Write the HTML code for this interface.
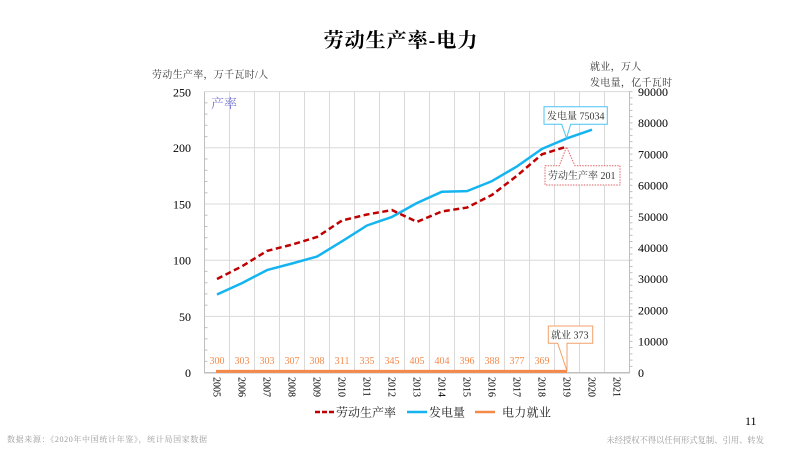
<!DOCTYPE html>
<html><head><meta charset="utf-8"><style>
html,body{margin:0;padding:0;background:#fff;}
svg{display:block;}
text{font-family:"Liberation Serif","Noto Serif CJK SC",serif;}
</style></head><body>
<svg width="800" height="450" viewBox="0 0 800 450" xmlns="http://www.w3.org/2000/svg">
<rect width="800" height="450" fill="#fff"/>
<!-- title -->
<text x="401" y="47" font-size="20" font-weight="bold" text-anchor="middle" letter-spacing="1" fill="#000">劳动生产率-电力</text>
<!-- axis titles -->
<text x="152" y="78" font-size="10" fill="#333" letter-spacing="0.3">劳动生产率，万千瓦时/人</text>
<text x="590" y="70" font-size="10" fill="#333" letter-spacing="0.3">就业，万人</text>
<text x="590" y="86" font-size="10" fill="#333" letter-spacing="0.3">发电量，亿千瓦时</text>

<!-- gridlines -->
<g stroke="#D9D9D9" stroke-width="1">
<line x1="204.5" y1="91.6" x2="629.5" y2="91.6"/>
<line x1="204.5" y1="147.8" x2="629.5" y2="147.8"/>
<line x1="204.5" y1="204" x2="629.5" y2="204"/>
<line x1="204.5" y1="260.2" x2="629.5" y2="260.2"/>
<line x1="204.5" y1="316.4" x2="629.5" y2="316.4"/>
<line x1="229.5" y1="91.6" x2="229.5" y2="372.6"/>
<line x1="254.5" y1="91.6" x2="254.5" y2="372.6"/>
<line x1="279.5" y1="91.6" x2="279.5" y2="372.6"/>
<line x1="304.5" y1="91.6" x2="304.5" y2="372.6"/>
<line x1="329.5" y1="91.6" x2="329.5" y2="372.6"/>
<line x1="354.5" y1="91.6" x2="354.5" y2="372.6"/>
<line x1="379.5" y1="91.6" x2="379.5" y2="372.6"/>
<line x1="404.5" y1="91.6" x2="404.5" y2="372.6"/>
<line x1="429.5" y1="91.6" x2="429.5" y2="372.6"/>
<line x1="454.5" y1="91.6" x2="454.5" y2="372.6"/>
<line x1="479.5" y1="91.6" x2="479.5" y2="372.6"/>
<line x1="504.5" y1="91.6" x2="504.5" y2="372.6"/>
<line x1="529.5" y1="91.6" x2="529.5" y2="372.6"/>
<line x1="554.5" y1="91.6" x2="554.5" y2="372.6"/>
<line x1="579.5" y1="91.6" x2="579.5" y2="372.6"/>
<line x1="604.5" y1="91.6" x2="604.5" y2="372.6"/>
</g>
<!-- axes -->
<g stroke="#BFBFBF" stroke-width="1">
<line x1="204.5" y1="91.6" x2="204.5" y2="373"/>
<line x1="629.5" y1="91.6" x2="629.5" y2="373"/>
<line x1="204" y1="372.8" x2="630" y2="372.8" stroke-width="1.5"/>
</g>
<!-- left minor ticks -->
<g stroke="#BFBFBF" stroke-width="1">
<line x1="204.5" x2="207.5" y1="361.4" y2="361.4"/><line x1="204.5" x2="207.5" y1="350.1" y2="350.1"/><line x1="204.5" x2="207.5" y1="338.9" y2="338.9"/><line x1="204.5" x2="207.5" y1="327.6" y2="327.6"/>
<line x1="204.5" x2="207.5" y1="305.2" y2="305.2"/><line x1="204.5" x2="207.5" y1="293.9" y2="293.9"/><line x1="204.5" x2="207.5" y1="282.7" y2="282.7"/><line x1="204.5" x2="207.5" y1="271.4" y2="271.4"/>
<line x1="204.5" x2="207.5" y1="249.0" y2="249.0"/><line x1="204.5" x2="207.5" y1="237.7" y2="237.7"/><line x1="204.5" x2="207.5" y1="226.5" y2="226.5"/><line x1="204.5" x2="207.5" y1="215.2" y2="215.2"/>
<line x1="204.5" x2="207.5" y1="192.8" y2="192.8"/><line x1="204.5" x2="207.5" y1="181.5" y2="181.5"/><line x1="204.5" x2="207.5" y1="170.3" y2="170.3"/><line x1="204.5" x2="207.5" y1="159.0" y2="159.0"/>
<line x1="204.5" x2="207.5" y1="136.6" y2="136.6"/><line x1="204.5" x2="207.5" y1="125.3" y2="125.3"/><line x1="204.5" x2="207.5" y1="114.1" y2="114.1"/><line x1="204.5" x2="207.5" y1="102.8" y2="102.8"/>
</g>
<!-- right minor ticks every 2000 -->
<g stroke="#BFBFBF" stroke-width="1">
<line x1="629.5" x2="632.5" y1="366.4" y2="366.4"/><line x1="629.5" x2="632.5" y1="360.1" y2="360.1"/><line x1="629.5" x2="632.5" y1="353.9" y2="353.9"/><line x1="629.5" x2="632.5" y1="347.6" y2="347.6"/><line x1="629.5" x2="632.5" y1="341.4" y2="341.4"/>
<line x1="629.5" x2="632.5" y1="335.1" y2="335.1"/><line x1="629.5" x2="632.5" y1="328.9" y2="328.9"/><line x1="629.5" x2="632.5" y1="322.7" y2="322.7"/><line x1="629.5" x2="632.5" y1="316.4" y2="316.4"/><line x1="629.5" x2="632.5" y1="310.2" y2="310.2"/>
<line x1="629.5" x2="632.5" y1="303.9" y2="303.9"/><line x1="629.5" x2="632.5" y1="297.7" y2="297.7"/><line x1="629.5" x2="632.5" y1="291.4" y2="291.4"/><line x1="629.5" x2="632.5" y1="285.2" y2="285.2"/><line x1="629.5" x2="632.5" y1="279.0" y2="279.0"/>
<line x1="629.5" x2="632.5" y1="272.7" y2="272.7"/><line x1="629.5" x2="632.5" y1="266.5" y2="266.5"/><line x1="629.5" x2="632.5" y1="260.2" y2="260.2"/><line x1="629.5" x2="632.5" y1="254.0" y2="254.0"/><line x1="629.5" x2="632.5" y1="247.7" y2="247.7"/>
<line x1="629.5" x2="632.5" y1="241.5" y2="241.5"/><line x1="629.5" x2="632.5" y1="235.3" y2="235.3"/><line x1="629.5" x2="632.5" y1="229.0" y2="229.0"/><line x1="629.5" x2="632.5" y1="222.8" y2="222.8"/><line x1="629.5" x2="632.5" y1="216.5" y2="216.5"/>
<line x1="629.5" x2="632.5" y1="210.3" y2="210.3"/><line x1="629.5" x2="632.5" y1="204.0" y2="204.0"/><line x1="629.5" x2="632.5" y1="197.8" y2="197.8"/><line x1="629.5" x2="632.5" y1="191.6" y2="191.6"/><line x1="629.5" x2="632.5" y1="185.3" y2="185.3"/>
<line x1="629.5" x2="632.5" y1="179.1" y2="179.1"/><line x1="629.5" x2="632.5" y1="172.8" y2="172.8"/><line x1="629.5" x2="632.5" y1="166.6" y2="166.6"/><line x1="629.5" x2="632.5" y1="160.3" y2="160.3"/><line x1="629.5" x2="632.5" y1="154.1" y2="154.1"/>
<line x1="629.5" x2="632.5" y1="147.9" y2="147.9"/><line x1="629.5" x2="632.5" y1="141.6" y2="141.6"/><line x1="629.5" x2="632.5" y1="135.4" y2="135.4"/><line x1="629.5" x2="632.5" y1="129.1" y2="129.1"/><line x1="629.5" x2="632.5" y1="122.9" y2="122.9"/>
<line x1="629.5" x2="632.5" y1="116.6" y2="116.6"/><line x1="629.5" x2="632.5" y1="110.4" y2="110.4"/><line x1="629.5" x2="632.5" y1="104.2" y2="104.2"/><line x1="629.5" x2="632.5" y1="97.9" y2="97.9"/><line x1="629.5" x2="632.5" y1="91.6" y2="91.6"/>
</g>

<!-- left axis labels -->
<g font-size="12" fill="#000" text-anchor="end">
<text x="191" y="96.3">250</text>
<text x="191" y="152.2">200</text>
<text x="191" y="208.4">150</text>
<text x="191" y="264.6">100</text>
<text x="191" y="320.8">50</text>
<text x="191" y="377">0</text>
</g>
<!-- right axis labels -->
<g font-size="12" fill="#000">
<text x="638" y="96">90000</text>
<text x="638" y="127.2">80000</text>
<text x="638" y="158.4">70000</text>
<text x="638" y="189.6">60000</text>
<text x="638" y="220.8">50000</text>
<text x="638" y="252">40000</text>
<text x="638" y="283.2">30000</text>
<text x="638" y="314.4">20000</text>
<text x="638" y="345.6">10000</text>
<text x="638" y="377">0</text>
</g>
<!-- x labels rotated -->
<g font-size="10" fill="#000">
<text transform="translate(213.7,377) rotate(90)">2005</text>
<text transform="translate(238.7,377) rotate(90)">2006</text>
<text transform="translate(263.7,377) rotate(90)">2007</text>
<text transform="translate(288.7,377) rotate(90)">2008</text>
<text transform="translate(313.7,377) rotate(90)">2009</text>
<text transform="translate(338.7,377) rotate(90)">2010</text>
<text transform="translate(363.7,377) rotate(90)">2011</text>
<text transform="translate(388.7,377) rotate(90)">2012</text>
<text transform="translate(413.7,377) rotate(90)">2013</text>
<text transform="translate(438.7,377) rotate(90)">2014</text>
<text transform="translate(463.7,377) rotate(90)">2015</text>
<text transform="translate(488.7,377) rotate(90)">2016</text>
<text transform="translate(513.7,377) rotate(90)">2017</text>
<text transform="translate(538.7,377) rotate(90)">2018</text>
<text transform="translate(563.7,377) rotate(90)">2019</text>
<text transform="translate(588.7,377) rotate(90)">2020</text>
<text transform="translate(613.7,377) rotate(90)">2021</text>
</g>

<!-- 产率 -->
<text x="211" y="108" font-size="13" fill="#6F6FD0">产率</text>

<!-- generation line -->
<polyline fill="none" stroke="#14B4F0" stroke-width="2.5" stroke-linejoin="round"
points="217,294.5 242,283.1 267,270.1 292,263.5 317,256.6 342,241.3 367,225.5 392,216.9 417,203 442,191.7 467,191.1 492,181.1 517,166.4 542,148.9 567,138.3 592,129.7"/>
<!-- productivity line -->
<polyline fill="none" stroke="#C00000" stroke-width="2.5" stroke-dasharray="6,3.5"
points="217,279 242,266.3 267,250.9 292,244.6 317,237 342,220.5 367,214.5 392,210.1 417,221.9 442,211.4 467,207.6 492,194.9 517,175.7 542,154.3 567,146.5"/>
<!-- employment line -->
<line x1="216" y1="371.4" x2="567" y2="371.4" stroke="#F5894A" stroke-width="3"/>

<!-- employment labels -->
<g font-size="11" fill="#F5894A" text-anchor="middle">
<text x="217" y="364" textLength="15" lengthAdjust="spacingAndGlyphs">300</text>
<text x="242" y="364" textLength="15" lengthAdjust="spacingAndGlyphs">303</text>
<text x="267" y="364" textLength="15" lengthAdjust="spacingAndGlyphs">303</text>
<text x="292" y="364" textLength="15" lengthAdjust="spacingAndGlyphs">307</text>
<text x="317" y="364" textLength="15" lengthAdjust="spacingAndGlyphs">308</text>
<text x="342" y="364" textLength="15" lengthAdjust="spacingAndGlyphs">311</text>
<text x="367" y="364" textLength="15" lengthAdjust="spacingAndGlyphs">335</text>
<text x="392" y="364" textLength="15" lengthAdjust="spacingAndGlyphs">345</text>
<text x="417" y="364" textLength="15" lengthAdjust="spacingAndGlyphs">405</text>
<text x="442" y="364" textLength="15" lengthAdjust="spacingAndGlyphs">404</text>
<text x="467" y="364" textLength="15" lengthAdjust="spacingAndGlyphs">396</text>
<text x="492" y="364" textLength="15" lengthAdjust="spacingAndGlyphs">388</text>
<text x="517" y="364" textLength="15" lengthAdjust="spacingAndGlyphs">377</text>
<text x="542" y="364" textLength="15" lengthAdjust="spacingAndGlyphs">369</text>
</g>

<!-- callouts -->
<path d="M544,106.7 H607.3 V124.3 H570.7 L566.5,138 L561.7,124.3 H544 Z" fill="#fff" stroke="#4CC4F4" stroke-width="1"/>
<text x="547" y="119.3" font-size="10" fill="#333">发电量 75034</text>

<path d="M545,165.7 H559.3 L566.5,147 L575,165.7 H620 V185 H545 Z" fill="#fff" stroke="#E06666" stroke-width="1" stroke-dasharray="1.5,1.2"/>
<text x="548" y="179" font-size="10" fill="#333">劳动生产率 201</text>

<path d="M548.3,326 H592.7 V343.3 H567 L567,371 L557.7,343.3 H548.3 Z" fill="#fff" stroke="#F4A06A" stroke-width="1"/>
<text x="551" y="338.5" font-size="10" fill="#333">就业 373</text>

<!-- legend -->
<line x1="315" y1="412" x2="334" y2="412" stroke="#C00000" stroke-width="2.5" stroke-dasharray="5,2"/>
<text x="336" y="416.5" font-size="12" fill="#222">劳动生产率</text>
<line x1="407" y1="412" x2="427" y2="412" stroke="#14B4F0" stroke-width="2.5"/>
<text x="429" y="416.5" font-size="12" fill="#222">发电量</text>
<line x1="475" y1="412" x2="495" y2="412" stroke="#F5894A" stroke-width="2.5"/>
<text x="502" y="416.5" font-size="12" fill="#222" letter-spacing="0.3">电力就业</text>

<!-- page number & footer -->
<text x="745" y="425" font-size="12" fill="#000">11</text>
<text x="7" y="442" font-size="8" fill="#9A9A9A" textLength="200" lengthAdjust="spacing">数据来源：《2020年中国统计年鉴》，统计局国家数据</text>
<text x="764" y="443" font-size="8.3" fill="#9A9A9A" text-anchor="end">未经授权不得以任何形式复制、引用、转发</text>
</svg>
</body></html>
